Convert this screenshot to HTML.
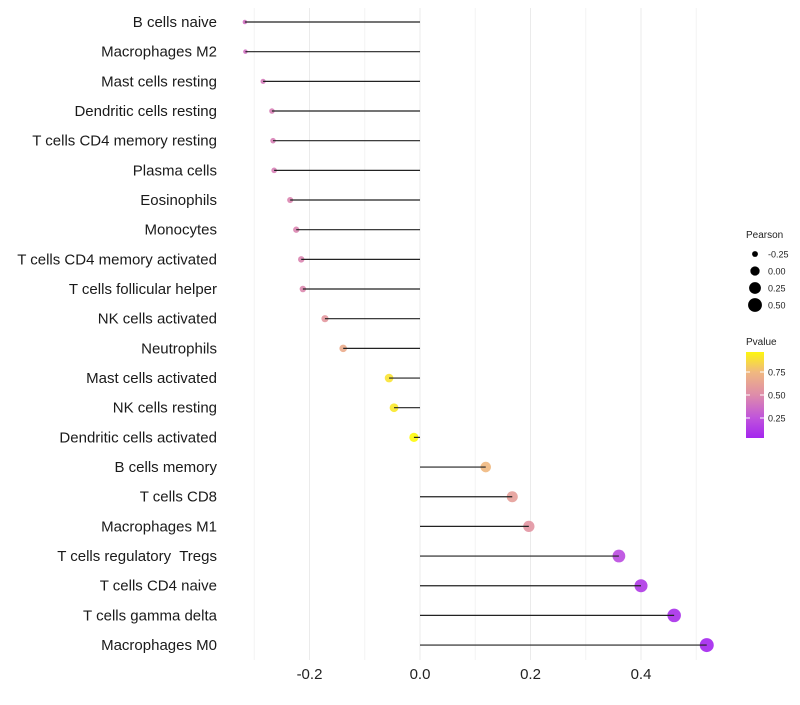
<!DOCTYPE html>
<html><head><meta charset="utf-8"><style>
body{margin:0;background:#fff;}
svg{font-family:"Liberation Sans",sans-serif;}
text{white-space:pre;}
</style></head><body>
<svg id="chart" width="800" height="700"></svg>
<script>
const categories=["B cells naive","Macrophages M2","Mast cells resting","Dendritic cells resting","T cells CD4 memory resting","Plasma cells","Eosinophils","Monocytes","T cells CD4 memory activated","T cells follicular helper","NK cells activated","Neutrophils","Mast cells activated","NK cells resting","Dendritic cells activated","B cells memory","T cells CD8","Macrophages M1","T cells regulatory  Tregs","T cells CD4 naive","T cells gamma delta","Macrophages M0"];
const pearson=[-0.317,-0.316,-0.284,-0.268,-0.266,-0.264,-0.235,-0.224,-0.215,-0.212,-0.172,-0.139,-0.056,-0.047,-0.011,0.119,0.167,0.197,0.36,0.40,0.46,0.519];
const pvalue=[0.38,0.38,0.42,0.44,0.44,0.44,0.47,0.47,0.47,0.48,0.57,0.68,0.9,0.92,0.98,0.75,0.6,0.55,0.2,0.12,0.07,0.03];
const xTicks=[-0.2,0.0,0.2,0.4];
const xMinor=[-0.3,-0.1,0.1,0.3,0.5];
const sizeLegend=[-0.25,0.00,0.25,0.50];
const colorTicks=[0.75,0.50,0.25];
const NS="http://www.w3.org/2000/svg";
const svg=document.getElementById('chart');
const x=v=>420+v*552.5;
const y=i=>22+i*29.67;
const r=v=>Math.sqrt(Math.max(1,5+(v+0.317)*52.6));
const stops=[[0,[160,32,240]],[0.25,[192,84,220]],[0.5,[222,140,170]],[0.75,[240,184,128]],[1,[255,255,0]]];
function col(p){for(let k=1;k<stops.length;k++){if(p<=stops[k][0]){const a=stops[k-1],b=stops[k],t=(p-a[0])/(b[0]-a[0]);
return `rgb(${a[1].map((c,j)=>Math.round(c+(b[1][j]-c)*t)).join(',')})`;}}return 'rgb(255,255,0)';}
function mk(t,a,p){const e=document.createElementNS(NS,t);for(const k in a)e.setAttribute(k,a[k]);(p||svg).appendChild(e);return e;}
xMinor.forEach(v=>{const l=mk('line',{x1:x(v),x2:x(v),y1:8,y2:660,stroke:'#f3f3f3','stroke-width':1});

});
xTicks.forEach(v=>{const l=mk('line',{x1:x(v),x2:x(v),y1:8,y2:660,stroke:'#ebebeb','stroke-width':1});


const t=mk('text',{x:x(v),y:679,'text-anchor':'middle','font-size':15,fill:'#222'});t.textContent=v.toFixed(1);

});
categories.forEach((c,i)=>{
const t=mk('text',{x:217,y:y(i)+5,'text-anchor':'end','font-size':15,fill:'#1a1a1a'});t.textContent=c;


const p=mk('circle',{cx:x(pearson[i]),cy:y(i),r:r(pearson[i]),fill:col(pvalue[i]),'fill-opacity':0.9});


const l=mk('line',{x1:x(0),x2:x(pearson[i]),y1:y(i),y2:y(i),stroke:'#222','stroke-width':1.2});


});
const lt=mk('text',{x:746,y:238,'font-size':10,fill:'#222'});lt.textContent='Pearson';


sizeLegend.forEach((v,i)=>{const cy=254+i*17;
const c=mk('circle',{cx:755,cy:cy,r:r(v),fill:'#000'});


const t=mk('text',{x:768,y:cy+3.5,'font-size':9,fill:'#222'});t.textContent=v.toFixed(2);

});
const ct=mk('text',{x:746,y:345,'font-size':10,fill:'#222'});ct.textContent='Pvalue';


const defs=mk('defs',{});const g=mk('linearGradient',{id:'pg',x1:0,y1:1,x2:0,y2:0},defs);
[0.03,0.25,0.5,0.75,0.97].forEach((p,k)=>mk('stop',{offset:(p-0.03)/0.94,'stop-color':col(p)},g));
const bar=mk('rect',{x:746,y:352,width:18,height:86,fill:'url(#pg)'});


colorTicks.forEach(v=>{const cy=395+(0.5-v)*92;
mk('line',{x1:746,x2:750,y1:cy,y2:cy,stroke:'#fff'});mk('line',{x1:760,x2:764,y1:cy,y2:cy,stroke:'#fff'});
const t=mk('text',{x:768,y:cy+3.5,'font-size':9,fill:'#222'});t.textContent=v.toFixed(2);

});
</script>
</body></html>
